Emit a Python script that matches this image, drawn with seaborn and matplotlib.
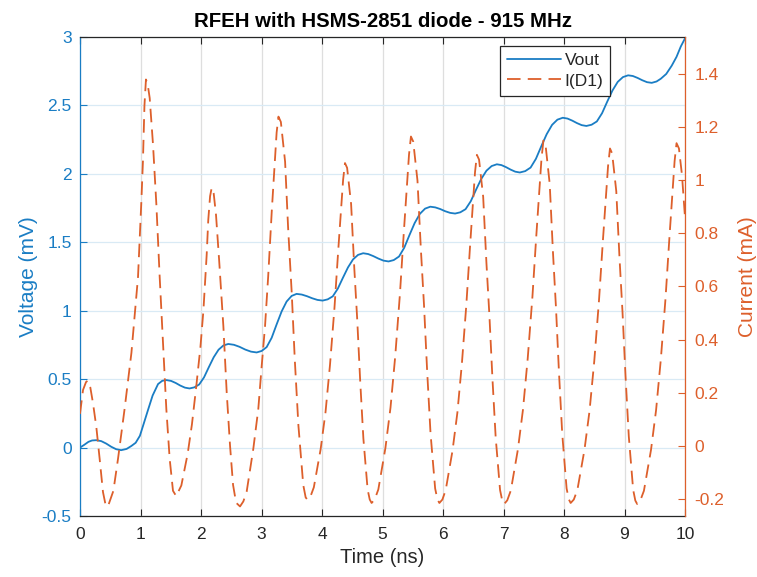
import matplotlib
matplotlib.use("Agg")
import matplotlib.pyplot as plt
import seaborn as sns

# ---------------- data ----------------
time_vout = [0.00, 0.07, 0.14, 0.20, 0.27, 0.352, 0.434, 0.516, 0.598, 0.68,
             0.77, 0.85, 0.92, 0.99, 1.05, 1.12, 1.20, 1.29, 1.36, 1.43,
             1.506, 1.582, 1.658, 1.734, 1.81,
             1.89, 1.97, 2.05, 2.13, 2.21, 2.29, 2.37, 2.45,
             2.544, 2.638, 2.732, 2.826, 2.92,
             3.003, 3.085, 3.168, 3.25, 3.333, 3.415, 3.498, 3.58,
             3.666, 3.752, 3.838, 3.924, 4.01,
             4.094, 4.178, 4.261, 4.345, 4.429, 4.513, 4.596, 4.68,
             4.764, 4.848, 4.932, 5.016, 5.10,
             5.186, 5.273, 5.359, 5.445, 5.531, 5.618, 5.704, 5.79,
             5.872, 5.954, 6.036, 6.118, 6.20,
             6.286, 6.373, 6.459, 6.545, 6.631, 6.718, 6.804, 6.89,
             6.966, 7.042, 7.118, 7.194, 7.27,
             7.359, 7.448, 7.536, 7.625, 7.714, 7.803, 7.891, 7.98,
             8.058, 8.136, 8.214, 8.292, 8.37,
             8.456, 8.543, 8.629, 8.715, 8.801, 8.888, 8.974, 9.06,
             9.138, 9.216, 9.294, 9.372, 9.45,
             9.53, 9.60, 9.69, 9.78, 9.86, 9.93, 10.0]

vout_mv = [0.0, 0.02, 0.042, 0.052, 0.054, 0.047, 0.029, 0.006, -0.012, -0.019,
           -0.01, 0.012, 0.035, 0.086, 0.17, 0.269, 0.38, 0.464, 0.488, 0.493,
           0.487, 0.472, 0.453, 0.438, 0.432,
           0.440, 0.461, 0.513, 0.588, 0.660, 0.715, 0.746, 0.757,
           0.751, 0.736, 0.716, 0.701, 0.695,
           0.706, 0.734, 0.802, 0.900, 0.995, 1.067, 1.108, 1.123,
           1.118, 1.106, 1.091, 1.079, 1.074,
           1.083, 1.105, 1.161, 1.240, 1.316, 1.375, 1.408, 1.42,
           1.414, 1.399, 1.381, 1.366, 1.36,
           1.370, 1.396, 1.460, 1.552, 1.640, 1.708, 1.746, 1.76,
           1.755, 1.743, 1.727, 1.715, 1.71,
           1.719, 1.742, 1.80, 1.883, 1.962, 2.023, 2.057, 2.07,
           2.064, 2.049, 2.031, 2.016, 2.01,
           2.02, 2.046, 2.11, 2.202, 2.29, 2.358, 2.396, 2.41,
           2.404, 2.389, 2.371, 2.356, 2.35,
           2.359, 2.383, 2.443, 2.528, 2.609, 2.672, 2.707, 2.72,
           2.715, 2.701, 2.684, 2.67, 2.665,
           2.675, 2.695, 2.73, 2.79, 2.855, 2.93, 2.99]

time_id = [0.00, 0.05, 0.10, 0.13, 0.17, 0.215, 0.27, 0.325, 0.38, 0.42, 0.46,
           0.552, 0.628, 0.738, 0.85, 0.959, 1.014, 1.04, 1.065, 1.09, 1.12, 1.152, 1.207,
           1.262, 1.317, 1.372, 1.427, 1.482, 1.537, 1.59,
           1.675, 1.78, 1.85, 1.92, 1.99, 2.04, 2.094, 2.12, 2.15, 2.177, 2.21, 2.248,
           2.30, 2.37, 2.425, 2.48, 2.53, 2.58, 2.645,
           2.70, 2.755, 2.865, 2.947, 3.003, 3.058, 3.11, 3.17, 3.22, 3.25, 3.28, 3.32,
           3.39, 3.44, 3.50, 3.55, 3.61, 3.69, 3.73, 3.76,
           3.81, 3.865, 3.977, 4.058, 4.132, 4.206, 4.268, 4.318, 4.349, 4.38, 4.415,
           4.481, 4.534, 4.582, 4.631, 4.684, 4.754, 4.789, 4.82,
           4.872, 4.931, 5.048, 5.132, 5.21, 5.288, 5.353, 5.405, 5.438, 5.47, 5.508,
           5.578, 5.635, 5.686, 5.738, 5.794, 5.87, 5.907, 5.94,
           5.99, 6.045, 6.157, 6.238, 6.312, 6.386, 6.448, 6.498, 6.529, 6.56, 6.596,
           6.664, 6.718, 6.767, 6.817, 6.871, 6.943, 6.979, 7.01,
           7.062, 7.121, 7.238, 7.322, 7.40, 7.478, 7.543, 7.595, 7.628, 7.66, 7.696,
           7.764, 7.818, 7.867, 7.917, 7.971, 8.043, 8.079, 8.11,
           8.162, 8.221, 8.338, 8.422, 8.50, 8.578, 8.643, 8.695, 8.728, 8.76, 8.796,
           8.864, 8.918, 8.967, 9.017, 9.071, 9.143, 9.179, 9.21,
           9.262, 9.321, 9.438, 9.522, 9.60, 9.678, 9.743, 9.795, 9.828, 9.86, 9.90,
           9.95, 10.0]

id1_ma = [0.12, 0.21, 0.24, 0.245, 0.22, 0.16, 0.07, -0.05, -0.175, -0.22, -0.23,
          -0.17, -0.05, 0.14, 0.35, 0.636, 0.92, 1.07, 1.28, 1.38, 1.36, 1.31, 1.134,
          0.91, 0.636, 0.387, 0.138, -0.049, -0.17, -0.19,
          -0.15, -0.03, 0.08, 0.22, 0.37, 0.51, 0.72, 0.85, 0.94, 0.972, 0.95, 0.87,
          0.698, 0.449, 0.20, 0.0, -0.148, -0.215, -0.229,
          -0.21, -0.173, -0.011, 0.138, 0.30, 0.449, 0.636, 0.885, 1.07, 1.18, 1.24, 1.22,
          1.07, 0.82, 0.574, 0.325, 0.076, -0.148, -0.195, -0.204,
          -0.191, -0.157, -0.014, 0.126, 0.304, 0.519, 0.735, 0.900, 1.002, 1.065, 1.047,
          0.911, 0.668, 0.476, 0.245, 0.027, -0.165, -0.203, -0.216,
          -0.202, -0.165, -0.009, 0.143, 0.336, 0.571, 0.806, 0.985, 1.096, 1.165, 1.146,
          0.999, 0.737, 0.530, 0.281, 0.046, -0.161, -0.202, -0.216,
          -0.203, -0.167, -0.019, 0.125, 0.309, 0.532, 0.755, 0.925, 1.030, 1.096, 1.078,
          0.938, 0.688, 0.491, 0.254, 0.030, -0.167, -0.207, -0.22,
          -0.206, -0.169, -0.014, 0.136, 0.328, 0.561, 0.794, 0.972, 1.082, 1.15, 1.131,
          0.986, 0.727, 0.522, 0.276, 0.044, -0.161, -0.202, -0.216,
          -0.203, -0.167, -0.016, 0.131, 0.318, 0.546, 0.773, 0.946, 1.053, 1.12, 1.101,
          0.959, 0.705, 0.504, 0.262, 0.035, -0.166, -0.207, -0.22,
          -0.206, -0.170, -0.016, 0.134, 0.324, 0.555, 0.786, 0.963, 1.072, 1.14, 1.12,
          1.02, 0.86]

x_ticks = [0, 1, 2, 3, 4, 5, 6, 7, 8, 9, 10]
x_tick_labels = ["0", "1", "2", "3", "4", "5", "6", "7", "8", "9", "10"]
left_ticks = [-0.5, 0, 0.5, 1, 1.5, 2, 2.5, 3]
left_tick_labels = ["-0.5", "0", "0.5", "1", "1.5", "2", "2.5", "3"]
right_ticks = [-0.2, 0, 0.2, 0.4, 0.6, 0.8, 1.0, 1.2, 1.4]
right_tick_labels = ["-0.2", "0", "0.2", "0.4", "0.6", "0.8", "1", "1.2", "1.4"]

title_text = "RFEH with HSMS-2851 diode - 915 MHz"
xlabel_text = "Time (ns)"
left_label_text = "Voltage (mV)"
right_label_text = "Current (mA)"
series_names = ["Vout", "I(D1)"]

# ---------------- style ----------------
sns.set_style("white")
plt.rcParams['font.family'] = ['Liberation Sans', 'DejaVu Sans']

BLUE = "#1a7dc4"
ORANGE = "#dd5f2b"
DARK = "#262626"
HGRID = "#D9EAF5"
VGRID = "#DEDEDE"

W, H = 757, 577
fig = plt.figure(figsize=(W / 100, H / 100), dpi=100)
L, R, T, B = 80, 685, 37, 516
ax = fig.add_axes([L / W, 1 - B / H, (R - L) / W, (B - T) / H])
ax2 = ax.twinx()

sns.lineplot(x=time_vout, y=vout_mv, ax=ax, color=BLUE, linewidth=1.3,
             sort=False, estimator=None, legend=False, label=series_names[0])
sns.lineplot(x=time_id, y=id1_ma, ax=ax2, color=ORANGE, linewidth=1.3,
             sort=False, estimator=None, legend=False, label=series_names[1])
line_v = ax.lines[0]
line_i = ax2.lines[0]
line_i.set_dashes([7.5, 4])

ax.set_xlim(0, 10)
ax.set_ylim(-0.5, 3)
ax2.set_ylim(-0.265, 1.54)

ax.set_xticks(x_ticks)
ax.set_xticklabels(x_tick_labels)
ax.set_yticks(left_ticks)
ax.set_yticklabels(left_tick_labels)
ax2.set_yticks(right_ticks)
ax2.set_yticklabels(right_tick_labels)

ax.grid(False)
ax2.grid(False)
ax.yaxis.grid(True, color=HGRID, linewidth=0.9)
ax.xaxis.grid(True, color=VGRID, linewidth=0.9)
ax.set_axisbelow(True)

ax.tick_params(axis='x', direction='in', length=5, width=0.8, colors=DARK,
               labelsize=12.5, pad=8, top=True, bottom=True)
ax.tick_params(axis='y', direction='in', length=5, width=0.8, colors=BLUE,
               labelsize=12.5, pad=6, left=True, right=False)
ax2.tick_params(axis='y', direction='in', length=5, width=0.8, colors=ORANGE,
                labelsize=12.5, pad=7, right=True, left=False)

for sp in ("top", "bottom"):
    ax.spines[sp].set_color(DARK)
    ax.spines[sp].set_linewidth(0.9)
    ax2.spines[sp].set_visible(False)
ax.spines["left"].set_color(BLUE)
ax.spines["left"].set_linewidth(0.9)
ax.spines["right"].set_visible(False)
ax2.spines["left"].set_visible(False)
ax2.spines["right"].set_color(ORANGE)
ax2.spines["right"].set_linewidth(0.9)

ax.set_xlabel(xlabel_text, fontsize=14.5, color=DARK, labelpad=4)
ax.set_ylabel(left_label_text, fontsize=15, color=BLUE, labelpad=3)
ax2.set_ylabel(right_label_text, fontsize=15, color=ORANGE, labelpad=10)
ax2.set_title(title_text, fontsize=14.7, fontweight='bold', color='black', pad=7)

leg = ax2.legend([line_v, line_i], series_names, loc='upper left',
                 bbox_to_anchor=(0.695, 0.981), borderaxespad=0,
                 fontsize=12.5, frameon=True, fancybox=False, framealpha=1,
                 edgecolor=DARK, handlelength=3.1, handletextpad=0.2,
                 borderpad=0.4, labelspacing=0.3)
leg.get_frame().set_linewidth(0.9)
for txt in leg.get_texts():
    txt.set_color(DARK)

fig.savefig("out.png", dpi=100)
